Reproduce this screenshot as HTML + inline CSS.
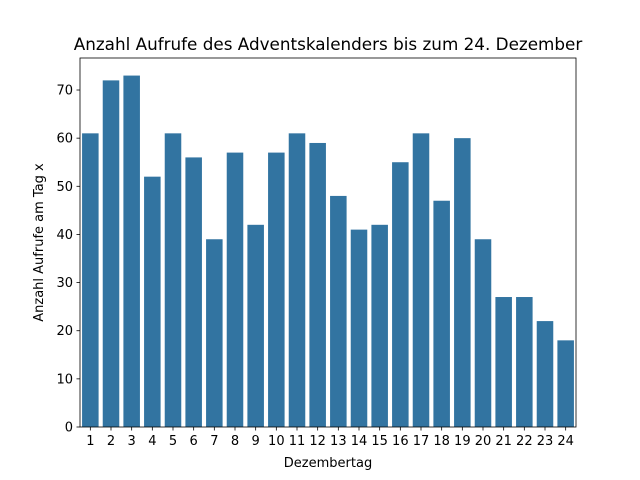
<!DOCTYPE html>
<html><head><meta charset="utf-8"><style>body{margin:0;background:#fff}svg{display:block;font-family:"DejaVu Sans","Liberation Sans",sans-serif}</style></head>
<body>
<svg id="c" width="640" height="480"></svg>
<script>
const categories=["1","2","3","4","5","6","7","8","9","10","11","12","13","14","15","16","17","18","19","20","21","22","23","24"];
const values=[61,72,73,52,61,56,39,57,42,57,61,59,48,41,42,55,61,47,60,39,27,27,22,18];
const yTicks=[0,10,20,30,40,50,60,70];
const L=80,R=576,T=58,B=427,ymax=76.65;
const ns="http://www.w3.org/2000/svg",svg=document.getElementById('c');
function x(i){return L+(i+0.5)*(R-L)/categories.length;}
function y(v){return B-v*(B-T)/ymax;}
function mk(t,a,txt){const e=document.createElementNS(ns,t);for(const k in a)e.setAttribute(k,a[k]);if(txt!==undefined)e.textContent=txt;svg.appendChild(e);return e;}
const bw=0.8*(R-L)/categories.length;
values.forEach((v,i)=>{const r=mk('rect',{x:x(i)-bw/2,y:y(v),width:bw,height:B-y(v),fill:'#3274a1'});

});
const f=mk('rect',{x:L,y:T,width:R-L,height:B-T,fill:'none',stroke:'#000','stroke-width':0.8});

categories.forEach((c,i)=>{mk('line',{x1:x(i),x2:x(i),y1:B,y2:B+3.5,stroke:'#000','stroke-width':0.8});
const t=mk('text',{x:x(i),y:B+18,'text-anchor':'middle','font-size':13},c);
});
yTicks.forEach(v=>{mk('line',{x1:L-3.5,x2:L,y1:y(v),y2:y(v),stroke:'#000','stroke-width':0.8});
const t=mk('text',{x:L-7,y:y(v)+4.5,'text-anchor':'end','font-size':13},v);
});
let t=mk('text',{x:(L+R)/2,y:467,'text-anchor':'middle','font-size':13},'Dezembertag');

t=mk('text',{x:43,y:(T+B)/2,'text-anchor':'middle','font-size':13,transform:'rotate(-90 43 '+(T+B)/2+')'},'Anzahl Aufrufe am Tag x');

t=mk('text',{x:(L+R)/2,y:50,'text-anchor':'middle','font-size':16.8},'Anzahl Aufrufe des Adventskalenders bis zum 24. Dezember');

</script>
</body></html>
